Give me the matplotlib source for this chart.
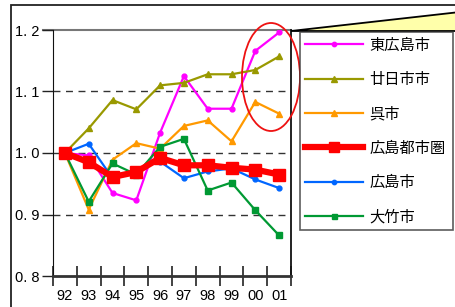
import matplotlib
matplotlib.use("Agg")
import matplotlib.pyplot as plt
from matplotlib.patches import Rectangle, Polygon, Ellipse
from matplotlib.ticker import FixedLocator, NullFormatter

plt.rcParams['font.family'] = ['Noto Sans CJK JP', 'DejaVu Sans']

years = ['92', '93', '94', '95', '96', '97', '98', '99', '00', '01']
higashihiroshima = [1.000, 0.996, 0.935, 0.923, 1.033, 1.125, 1.072, 1.072, 1.166, 1.196]
hatsukaichi = [1.000, 1.040, 1.086, 1.071, 1.110, 1.114, 1.128, 1.128, 1.135, 1.157]
kure = [1.000, 0.908, 0.989, 1.016, 1.007, 1.044, 1.053, 1.019, 1.083, 1.064]
metro = [1.000, 0.985, 0.961, 0.969, 0.992, 0.980, 0.980, 0.976, 0.973, 0.965]
hiroshima = [1.000, 1.015, 0.959, 0.973, 0.986, 0.959, 0.970, 0.975, 0.957, 0.943]
otake = [1.000, 0.921, 0.983, 0.965, 1.010, 1.023, 0.939, 0.952, 0.907, 0.866]
labels = ['東広島市', '廿日市市', '呉市', '広島都市圏', '広島市', '大竹市']
yticks = [0.8, 0.9, 1.0, 1.1, 1.2]

W, H = 455, 307
fig = plt.figure(figsize=(W / 100, H / 100), dpi=100)

def fx(px):
    return px / W

def fy(py):
    return 1 - py / H

# outer frame
fig.add_artist(Rectangle((fx(11), fy(320)), fx(470) - fx(11), fy(5) - fy(320),
                         transform=fig.transFigure, fill=False, edgecolor='#222222', lw=1.3,
                         zorder=0))

ax = fig.add_axes([fx(53), fy(276), fx(291) - fx(53), fy(30) - fy(276)])
x = list(range(len(years)))
series = [
    (higashihiroshima, '#FF00FF', 'o', 3.5, 1.6),
    (hatsukaichi, '#999900', '^', 4.5, 1.6),
    (kure, '#FF9900', '^', 4.5, 1.6),
    (metro, '#FF0000', 's', 8, 4.5),
    (hiroshima, '#0066FF', 'o', 3.5, 1.6),
    (otake, '#009933', 's', 4, 1.6),
]
handles = []
for (vals, c, m, ms, lw), lab in zip(series, labels):
    h, = ax.plot(x, vals, color=c, marker=m, markersize=ms, lw=lw, label=lab, zorder=3)
    handles.append(h)
handles[3].set_zorder(4)

ax.set_xlim(-0.5, 9.5)
ax.set_ylim(0.8, 1.2)
ax.set_yticks(yticks)
ax.set_yticklabels(['0. 8', '0. 9', '1. 0', '1. 1', '1. 2'], family='Liberation Sans', fontsize=10.5)
ax.xaxis.set_major_locator(FixedLocator([i + 0.5 for i in range(-1, 10)]))
ax.xaxis.set_major_formatter(NullFormatter())
ax.xaxis.set_minor_locator(FixedLocator(x))
ax.set_xticklabels(years, minor=True, family='Liberation Sans', fontsize=10.5)
ax.tick_params(axis='x', which='major', direction='inout', length=14, width=1.2, color='#222222')
ax.tick_params(axis='x', which='minor', length=0, pad=9)
ax.tick_params(axis='y', direction='out', length=8, width=1.0, color='#222222', pad=2)
for yv in [0.9, 1.0, 1.1]:
    ax.axhline(yv, color='#333333', lw=1.0, ls=(0, (5, 4)), zorder=1)
ax.axhline(1.2, color='#777777', lw=1.5, zorder=1, xmin=-0.04, clip_on=False)
ax.spines['top'].set_visible(False)
ax.spines['left'].set_color('#111111')
ax.spines['right'].set_color('#111111')
ax.spines['right'].set_linewidth(1.3)
ax.spines['bottom'].set_color('#333333')
ax.spines['bottom'].set_linewidth(2.0)

# callout wedge
fig.add_artist(Polygon([(fx(291), fy(31)), (fx(460), fy(12)), (fx(460), fy(31))],
                       closed=True, transform=fig.transFigure, facecolor='#FFFFAA',
                       edgecolor='black', lw=1.3, zorder=0.5))

# red ellipse
fig.add_artist(Ellipse((fx(271), fy(77)), fx(58), 108 / H, transform=fig.transFigure,
                       fill=False, edgecolor='#EE1111', lw=1.3, zorder=5))

leg = fig.legend(handles=handles, labels=labels, loc='upper left',
                 bbox_to_anchor=(fx(300), fy(227), fx(453) - fx(300), fy(32) - fy(227)),
                 bbox_transform=fig.transFigure, mode='expand',
                 fontsize=11, frameon=True, fancybox=False, borderpad=0.3,
                 labelspacing=1.14, handlelength=3.8, handletextpad=0.45,
                 borderaxespad=0, markerscale=0.9)
leg.get_frame().set_edgecolor('#333333')
leg.get_frame().set_linewidth(1.2)
leg.set_zorder(6)

fig.savefig('out.png', dpi=100)
